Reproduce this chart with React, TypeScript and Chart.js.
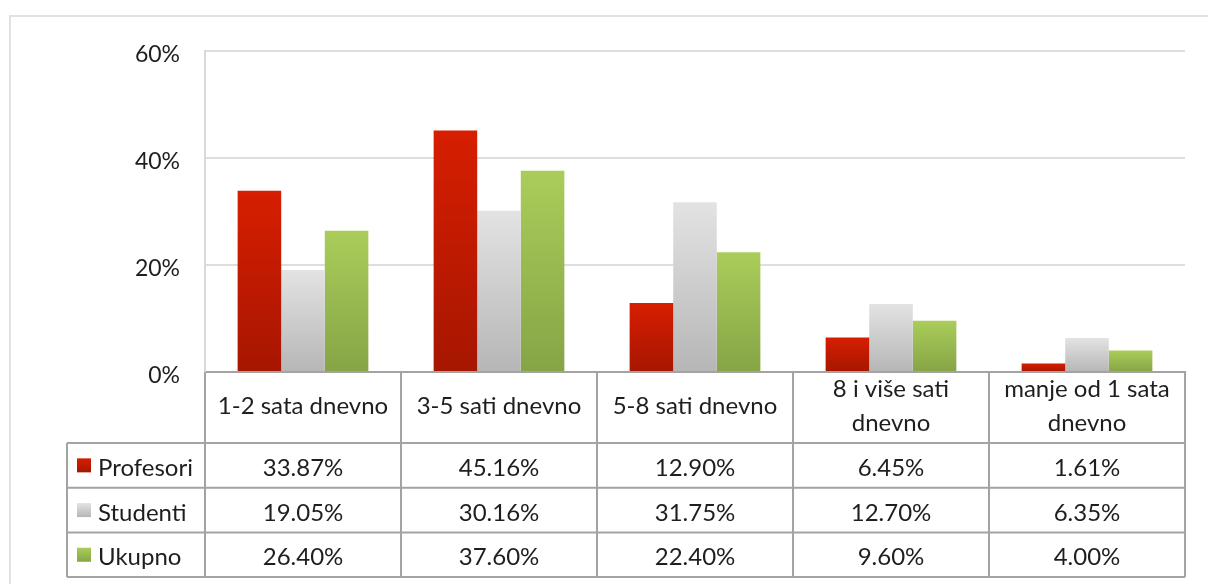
import React, { useEffect, useRef } from 'react';
import { Chart, registerables } from 'chart.js';

Chart.register(...registerables);

// ---- data ----
const categories: string[][] = [
  ['1-2 sata dnevno'],
  ['3-5 sati dnevno'],
  ['5-8 sati dnevno'],
  ['8 i više sati', 'dnevno'],
  ['manje od 1 sata', 'dnevno'],
];
const seriesNames = ['Profesori', 'Studenti', 'Ukupno'];
const profesori = [33.87, 45.16, 12.9, 6.45, 1.61];
const studenti = [19.05, 30.16, 31.75, 12.7, 6.35];
const ukupno = [26.4, 37.6, 22.4, 9.6, 4.0];
const yTickValues = [0, 20, 40, 60];

// ---- styles ----
const FONT = 'Lato, "Noto Sans", sans-serif';
const TEXT = '#1e1e1e';
const gradients: [string, string][] = [
  ['#d71e00', '#a61600'],
  ['#e3e3e3', '#b6b6b6'],
  ['#aacd5a', '#86a446'],
];

function gradientFill(stops: [string, string]) {
  return (c: any) => {
    const chart = c.chart;
    if (!chart.chartArea || c.type !== 'data' || !c.parsed) return stops[0];
    const ys = chart.scales.y;
    const top = ys.getPixelForValue(c.parsed.y);
    const base = ys.getPixelForValue(0);
    if (!isFinite(top) || !isFinite(base) || Math.abs(base - top) < 0.5) return stops[0];
    const g = chart.ctx.createLinearGradient(0, top, 0, base);
    g.addColorStop(0, stops[0]);
    g.addColorStop(1, stops[1]);
    return g;
  };
}

const seriesData = [profesori, studenti, ukupno];

const tablePlugin = {
  id: 'dataTable',
  beforeDraw(chart: any) {
    const ctx = chart.ctx;
    ctx.save();
    ctx.fillStyle = '#ffffff';
    ctx.fillRect(0, 0, chart.width, chart.height);
    ctx.strokeStyle = '#e2e2e2';
    ctx.lineWidth = 2;
    ctx.strokeRect(10, 16, chart.width + 40, chart.height + 40);
    ctx.restore();
  },
  afterDraw(chart: any) {
    const ctx = chart.ctx;
    const area = chart.chartArea;
    const xs = chart.scales.x;
    const n = categories.length;
    const half = (xs.getPixelForValue(1) - xs.getPixelForValue(0)) / 2;
    const bounds: number[] = [];
    for (let i = 0; i < n; i++) bounds.push(xs.getPixelForValue(i) - half);
    bounds.push(xs.getPixelForValue(n - 1) + half);

    const headerBottom = area.bottom + 71;
    const rowH = 44.7;
    const legendLeft = 67;
    const rows = seriesNames.map((_, i) => headerBottom + i * rowH);
    const tableBottom = headerBottom + seriesNames.length * rowH;

    ctx.save();
    ctx.strokeStyle = '#a3a3a3';
    ctx.lineWidth = 2;
    ctx.beginPath();
    bounds.forEach((b) => {
      ctx.moveTo(b, area.bottom);
      ctx.lineTo(b, tableBottom);
    });
    ctx.moveTo(legendLeft, headerBottom);
    ctx.lineTo(legendLeft, tableBottom);
    for (let r = 0; r <= seriesNames.length; r++) {
      const y = headerBottom + r * rowH;
      ctx.moveTo(legendLeft, y);
      ctx.lineTo(bounds[bounds.length - 1], y);
    }
    ctx.stroke();

    ctx.font = '24px ' + FONT;
    ctx.fillStyle = TEXT;
    ctx.textBaseline = 'middle';
    seriesNames.forEach((name, s) => {
      const rc = rows[s] + rowH / 2;
      const g = ctx.createLinearGradient(0, rc - 7, 0, rc + 7);
      g.addColorStop(0, gradients[s][0]);
      g.addColorStop(1, gradients[s][1]);
      ctx.fillStyle = g;
      ctx.fillRect(77, rc - 7, 14, 14);
      const cy = rc + 3;
      ctx.fillStyle = TEXT;
      ctx.textAlign = 'left';
      ctx.fillText(name, 98, cy);
      ctx.textAlign = 'center';
      seriesData[s].forEach((v, i) => {
        ctx.fillText(v.toFixed(2) + '%', xs.getPixelForValue(i), cy);
      });
    });
    ctx.restore();
  },
};

export default function App() {
  const canvasRef = useRef<HTMLCanvasElement | null>(null);

  useEffect(() => {
    document.body.style.margin = '0';
    const canvas = canvasRef.current;
    if (!canvas) return;
    const chart = new Chart(canvas, {
      type: 'bar',
      data: {
        labels: categories as any,
        datasets: seriesNames.map((name, s) => ({
          label: name,
          data: seriesData[s],
          backgroundColor: gradientFill(gradients[s]) as any,
          borderWidth: 0,
          barPercentage: 1,
          categoryPercentage: 0.667,
        })),
      },
      options: {
        animation: false,
        responsive: false,
        maintainAspectRatio: false,
        devicePixelRatio: 1,
        layout: { padding: { top: 51, right: 23, bottom: 7, left: 0 } },
        plugins: {
          legend: { display: false },
          tooltip: { enabled: false },
          title: { display: false },
        },
        scales: {
          x: {
            grid: { display: false, drawTicks: false },
            border: { display: true, color: '#a3a3a3', width: 2 },
            ticks: {
              color: TEXT,
              font: { family: FONT, size: 24, lineHeight: 34 / 24 },
              padding: 17,
              autoSkip: false,
              maxRotation: 0,
              minRotation: 0,
              crossAlign: 'center',
            },
            afterFit(scale: any) {
              scale.height = 205;
            },
          },
          y: {
            min: 0,
            max: 60,
            afterBuildTicks(scale: any) {
              scale.ticks = yTickValues.map((v) => ({ value: v }));
            },
            grid: { color: '#dedede', lineWidth: 2, drawTicks: false },
            border: { display: true, color: '#d9d9d9', width: 2 },
            ticks: {
              color: TEXT,
              font: { family: FONT, size: 23 },
              padding: 25,
              labelOffset: 4,
              callback: (v: any) => v + '%',
            },
            afterFit(scale: any) {
              scale.width = 205;
            },
          },
        },
      },
      plugins: [tablePlugin],
    });
    return () => chart.destroy();
  }, []);

  return (
    <div style={{ position: 'fixed', left: 0, top: 0, width: 1208, height: 584, background: '#fff' }}>
      <canvas ref={canvasRef} width={1208} height={584} style={{ display: 'block' }} />
    </div>
  );
}
